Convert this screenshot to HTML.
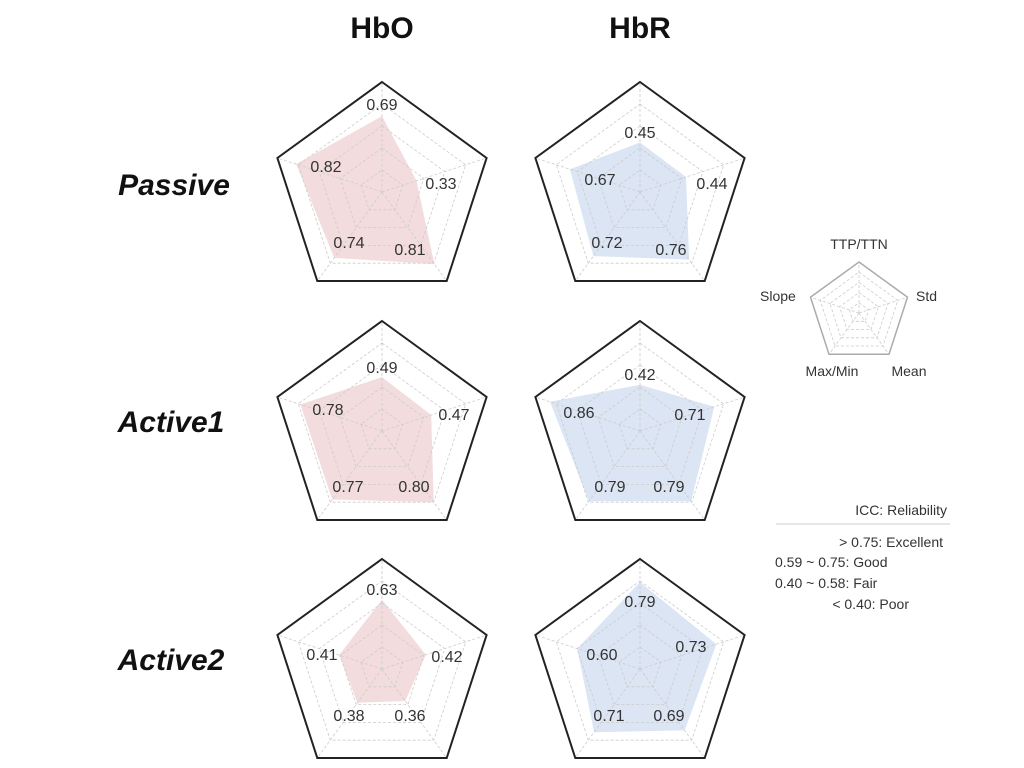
<!DOCTYPE html>
<html><head><meta charset="utf-8"><style>
html,body{margin:0;padding:0;background:#fff;}
svg{display:block;font-family:"Liberation Sans",Arial,sans-serif;}
</style></head><body>
<svg id="s" width="1024" height="768" viewBox="0 0 1024 768" xmlns="http://www.w3.org/2000/svg">
<text x="382" y="38" text-anchor="middle" font-size="30" font-weight="bold" fill="#111">HbO</text>
<text x="640" y="38" text-anchor="middle" font-size="30" font-weight="bold" fill="#111">HbR</text>
<text x="174" y="195" text-anchor="middle" font-size="30" font-weight="bold" font-style="italic" fill="#111">Passive</text>
<text x="171" y="432" text-anchor="middle" font-size="30" font-weight="bold" font-style="italic" fill="#111">Active1</text>
<text x="171" y="670" text-anchor="middle" font-size="30" font-weight="bold" font-style="italic" fill="#111">Active2</text>
<g font-size="14" fill="#333">
<text x="859" y="249" text-anchor="middle">TTP/TTN</text>
<text x="760" y="301">Slope</text>
<text x="916" y="301">Std</text>
<text x="832" y="376" text-anchor="middle">Max/Min</text>
<text x="909" y="376" text-anchor="middle">Mean</text>
<text x="947" y="515" text-anchor="end">ICC: Reliability</text>
<text x="943" y="547" text-anchor="end">&gt; 0.75: Excellent</text>
<text x="775" y="567">0.59 ~ 0.75: Good</text>
<text x="775" y="588">0.40 ~ 0.58: Fair</text>
<text x="909" y="609" text-anchor="end">&lt; 0.40: Poor</text>
</g>
<line x1="776" y1="524" x2="950" y2="524" stroke="#ccc" stroke-width="1"/>
</svg>
<script>
var s=document.getElementById('s'),NS='http://www.w3.org/2000/svg';
function el(t,a,txt){var e=document.createElementNS(NS,t);for(var k in a)e.setAttribute(k,a[k]);if(txt)e.textContent=txt;s.appendChild(e);return e;}
var ang=[-90,-18,54,126,198].map(function(d){return d*Math.PI/180;});
function pts(cx,cy,rs){return ang.map(function(a,i){var r=rs[i];return (cx+r*Math.cos(a)).toFixed(1)+','+(cy+r*Math.sin(a)).toFixed(1);}).join(' ');}
function radar(cx,cy,R,vals,fill,labels,outer,sw){
  if(vals) el('polygon',{points:pts(cx,cy,vals.map(function(v){return v*R;})),fill:fill,stroke:'none'});
  [0.2,0.4,0.6,0.8].forEach(function(f){el('polygon',{points:pts(cx,cy,[f*R,f*R,f*R,f*R,f*R]),fill:'none',stroke:'#ccc','stroke-width':0.8,'stroke-dasharray':'3,2'});});
  ang.forEach(function(a){el('line',{x1:cx,y1:cy,x2:cx+R*Math.cos(a),y2:cy+R*Math.sin(a),stroke:'#ccc','stroke-width':0.8,'stroke-dasharray':'3,2'});});
  el('polygon',{points:pts(cx,cy,[R,R,R,R,R]),fill:'none',stroke:outer,'stroke-width':sw,'stroke-linejoin':'miter'});
  if(labels) labels.forEach(function(l){el('text',{x:l[1],y:l[2]+5,'text-anchor':'middle','font-size':16,fill:'#333'},l[0]);});
}
var R=110,pk='rgba(228,178,182,0.45)',bl='rgba(175,198,230,0.45)';
var C=[
 [382,192,[0.69,0.33,0.81,0.74,0.82],pk,[['0.69',382,105],['0.82',326,167],['0.33',441,184],['0.74',349,243],['0.81',410,250]]],
 [640,192,[0.45,0.44,0.76,0.72,0.67],bl,[['0.45',640,133],['0.67',600,180],['0.44',712,184],['0.72',607,243],['0.76',671,250]]],
 [382,431,[0.49,0.47,0.80,0.77,0.78],pk,[['0.49',382,368],['0.78',328,410],['0.47',454,415],['0.77',348,487],['0.80',414,487]]],
 [640,431,[0.42,0.71,0.79,0.79,0.86],bl,[['0.42',640,375],['0.86',579,413],['0.71',690,415],['0.79',610,487],['0.79',669,487]]],
 [382,669,[0.63,0.42,0.36,0.38,0.41],pk,[['0.63',382,590],['0.41',322,655],['0.42',447,657],['0.38',349,716],['0.36',410,716]]],
 [640,669,[0.79,0.73,0.69,0.71,0.60],bl,[['0.79',640,602],['0.60',602,655],['0.73',691,647],['0.71',609,716],['0.69',669,716]]]
];
C.forEach(function(c){radar(c[0],c[1],R,c[2],c[3],c[4],'#222',2);});
radar(859,313,51,null,null,null,'#aaa',1.5);
</script>
</body></html>
